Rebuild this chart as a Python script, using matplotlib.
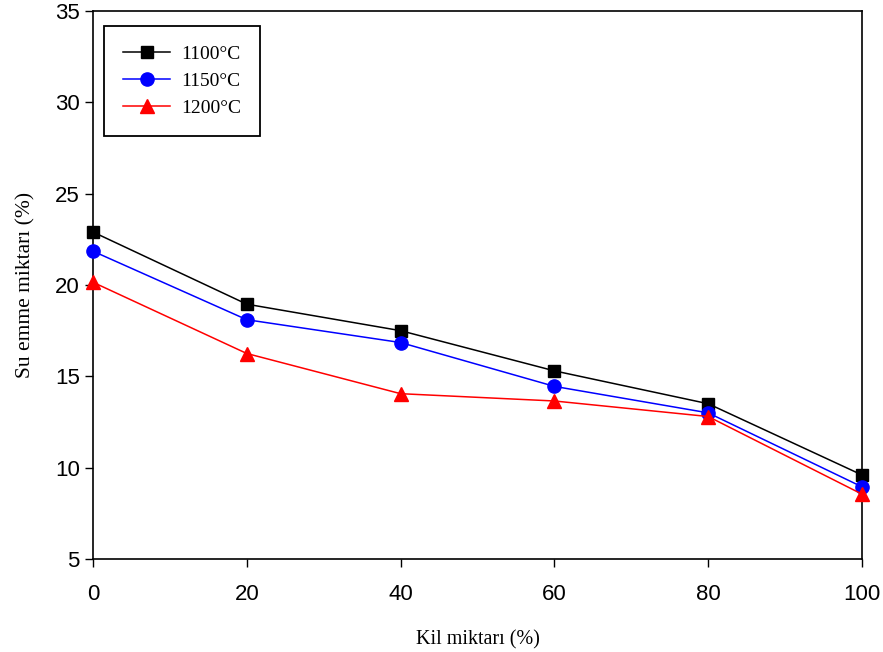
import matplotlib
matplotlib.use('Agg')
import matplotlib.pyplot as plt

kil = [0, 20, 40, 60, 80, 100]
su_1100 = [22.9, 18.95, 17.5, 15.3, 13.5, 9.6]
su_1150 = [21.85, 18.1, 16.85, 14.45, 13.0, 8.95]
su_1200 = [20.15, 16.25, 14.05, 13.65, 12.8, 8.55]
labels = ['1100°C', '1150°C', '1200°C']

fig = plt.figure(figsize=(8.83, 6.52), dpi=100)
ax = fig.add_axes([93 / 883, 1 - 559 / 652, 769 / 883, 548 / 652])

ax.plot(kil, su_1100, color='black', lw=1.1, marker='s', ms=9, label=labels[0], clip_on=False, zorder=3)
ax.plot(kil, su_1150, color='blue', lw=1.1, marker='o', ms=9.5, label=labels[1], clip_on=False, zorder=3)
ax.plot(kil, su_1200, color='red', lw=1.1, marker='^', ms=10, label=labels[2], clip_on=False, zorder=3)

ax.set_xlim(0, 100)
ax.set_ylim(5, 35)
ax.set_xticks([0, 20, 40, 60, 80, 100])
ax.set_yticks([5, 10, 15, 20, 25, 30, 35])
ax.tick_params(direction='out', length=5.5, width=1, labelsize=16)
ax.tick_params(axis='x', pad=12.5)
ax.tick_params(axis='y', pad=4)
for lab in ax.get_xticklabels() + ax.get_yticklabels():
    lab.set_family('Liberation Sans')
for s in ax.spines.values():
    s.set_linewidth(1.2)

serif = 'Liberation Serif'
ax.set_xlabel('Kil miktarı (%)', family=serif, fontsize=14.5, labelpad=18)
ax.set_ylabel('Su emme miktarı (%)', family=serif, fontsize=15.5, labelpad=14)

leg = ax.legend(loc='upper left', bbox_to_anchor=(11 / 769, 1 - 15 / 548), borderaxespad=0,
                prop={'family': serif, 'size': 14}, fancybox=False, framealpha=1,
                edgecolor='black', handlelength=2.4, labelspacing=0.48,
                borderpad=1.0, handletextpad=0.55)
leg.get_frame().set_linewidth(1.3)

fig.savefig('out.png', dpi=100)
